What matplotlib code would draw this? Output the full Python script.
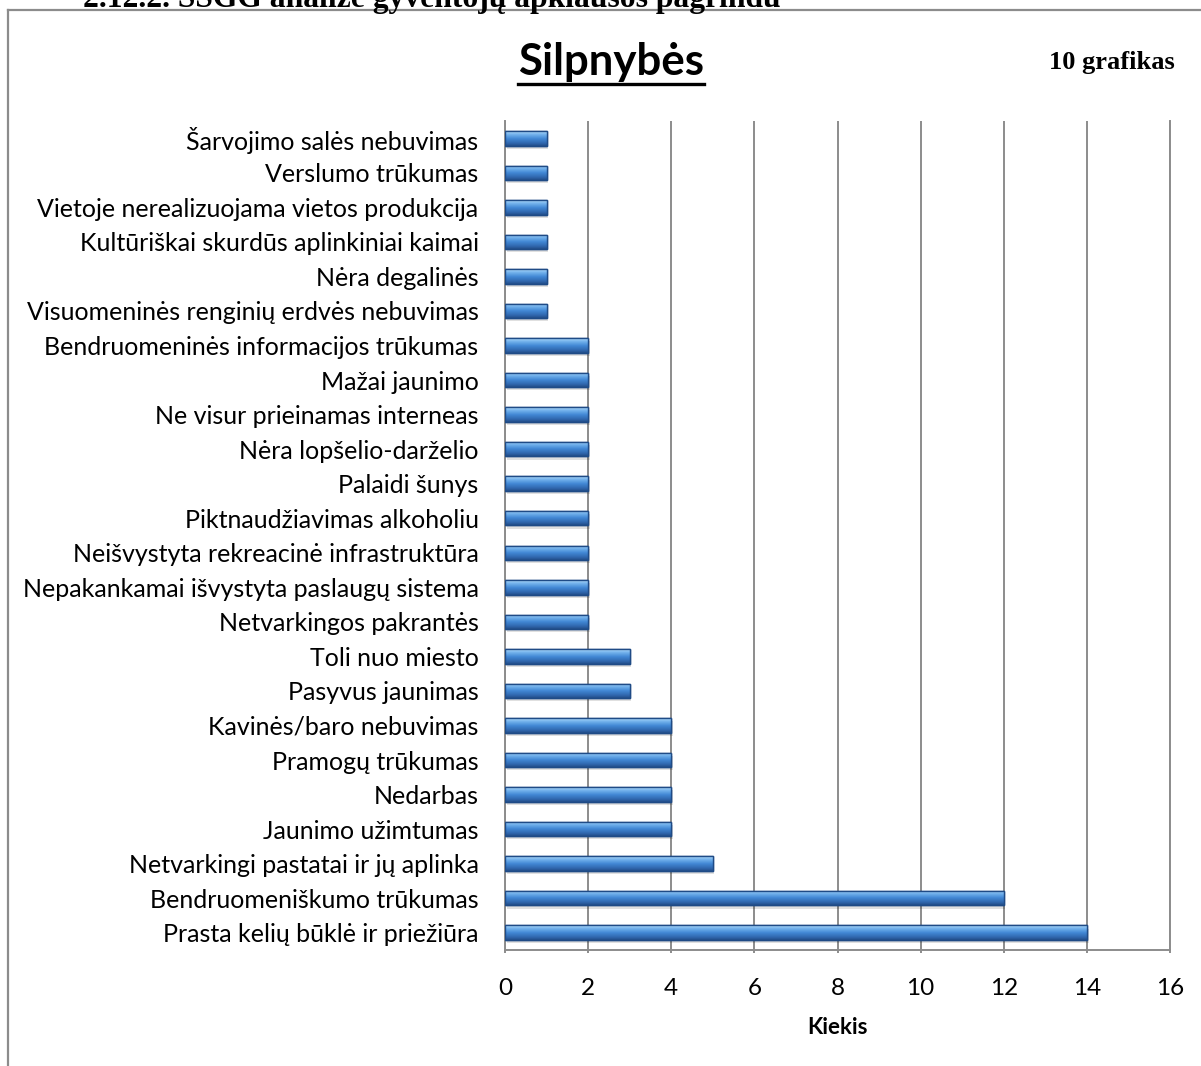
import matplotlib
matplotlib.use("Agg")
import matplotlib.pyplot as plt
import numpy as np
from matplotlib.colors import LinearSegmentedColormap
from matplotlib.lines import Line2D

categories = [
    "Šarvojimo salės nebuvimas",
    "Verslumo trūkumas",
    "Vietoje nerealizuojama vietos produkcija",
    "Kultūriškai skurdūs aplinkiniai kaimai",
    "Nėra degalinės",
    "Visuomeninės renginių erdvės nebuvimas",
    "Bendruomeninės informacijos trūkumas",
    "Mažai jaunimo",
    "Ne visur prieinamas interneas",
    "Nėra lopšelio-darželio",
    "Palaidi šunys",
    "Piktnaudžiavimas alkoholiu",
    "Neišvystyta rekreacinė infrastruktūra",
    "Nepakankamai išvystyta paslaugų sistema",
    "Netvarkingos pakrantės",
    "Toli nuo miesto",
    "Pasyvus jaunimas",
    "Kavinės/baro nebuvimas",
    "Pramogų trūkumas",
    "Nedarbas",
    "Jaunimo užimtumas",
    "Netvarkingi pastatai ir jų aplinka",
    "Bendruomeniškumo trūkumas",
    "Prasta kelių būklė ir priežiūra",
]
counts = [1, 1, 1, 1, 1, 1, 2, 2, 2, 2, 2, 2, 2, 2, 2, 3, 3, 4, 4, 4, 4, 5, 12, 14]
x_ticks = [0, 2, 4, 6, 8, 10, 12, 14, 16]

W, H = 1201, 1066
fig = plt.figure(figsize=(W / 100, H / 100), dpi=100)
ax = fig.add_axes([505 / W, 1 - 950 / H, (1170 - 505) / W, (950 - 121) / H])

label_font = "Lato"
grey = "#8c8c8c"
bar_h = 0.42
ypos = np.arange(len(categories))

# shadow under the bars
ax.barh(ypos + 0.09, counts, height=bar_h, left=0.04, color="#000000",
        alpha=0.12, zorder=2, linewidth=0)

bars = ax.barh(ypos, counts, height=bar_h, color="#3f7fcc",
               edgecolor="#1f4b86", linewidth=1.0, zorder=3)

cmap = LinearSegmentedColormap.from_list(
    "bar3d", [(0.0, "#b5dcfa"), (0.2, "#78b6ee"), (0.5, "#4389d6"),
              (0.8, "#3169b0"), (1.0, "#244f8a")])
grad = np.linspace(0, 1, 64).reshape(-1, 1)
for b in bars:
    x0, y0 = b.get_x(), b.get_y()
    im = ax.imshow(grad, cmap=cmap, aspect="auto", zorder=3.5,
                   extent=(x0, x0 + b.get_width(), y0 + b.get_height(), y0),
                   origin="upper", interpolation="bilinear")
    im.set_clip_path(b)
    ax.barh(y0 + b.get_height() / 2, b.get_width(), height=b.get_height(),
            left=x0, fill=False, edgecolor="#1f4b86", linewidth=1.0, zorder=3.7)

ax.set_xlim(0, 16)
ax.set_ylim(len(categories) - 0.5, -0.5)
ax.set_yticks(ypos)
ax.set_yticklabels(categories, fontsize=18, family=label_font)
ax.set_xticks(x_ticks)
ax.set_xticklabels([str(t) for t in x_ticks], fontsize=17.5, family=label_font)

ax.grid(axis="x", color=grey, linewidth=1.4, zorder=1)
ax.set_axisbelow(True)
ax.spines["top"].set_visible(False)
for s in ["left", "bottom", "right"]:
    ax.spines[s].set_color(grey)
    ax.spines[s].set_linewidth(1.4)
ax.tick_params(axis="y", length=0, pad=19)
ax.tick_params(axis="x", length=2, width=1.4, color=grey, pad=18)
ax.set_xlabel("Kiekis", fontsize=16, fontweight="bold", family=label_font,
              labelpad=13)

# outer chart frame (document crop)
fy = 1 - 10 / H
fx = 8 / W
fig.add_artist(Line2D([fx, 1.0], [fy, fy], color=grey, linewidth=1.6))
fig.add_artist(Line2D([fx, fx], [0, fy], color=grey, linewidth=1.6))

# section heading, cut off at the top of the crop
fig.text(83 / W, 1 - 6.5 / H, "2.12.2. SSGG analizė gyventojų apklausos pagrindu",
         fontsize=22.8, fontweight="bold", family="Liberation Serif",
         ha="left", va="baseline")

title = fig.text(611 / W, 1 - 62 / H, "Silpnybės", fontsize=31.5, fontweight="bold",
                 family=label_font, ha="center", va="center")
fig.text(1112 / W, 1 - 62 / H, "10 grafikas", fontsize=19, fontweight="bold",
         family="Liberation Serif", ha="center", va="center")

# underline the title
fig.canvas.draw()
bb = title.get_window_extent().transformed(fig.transFigure.inverted())
uy = 1 - 84 / H
fig.add_artist(Line2D([bb.x0, bb.x1], [uy, uy], color="black", linewidth=2.4))

fig.savefig("out.png", dpi=100)
